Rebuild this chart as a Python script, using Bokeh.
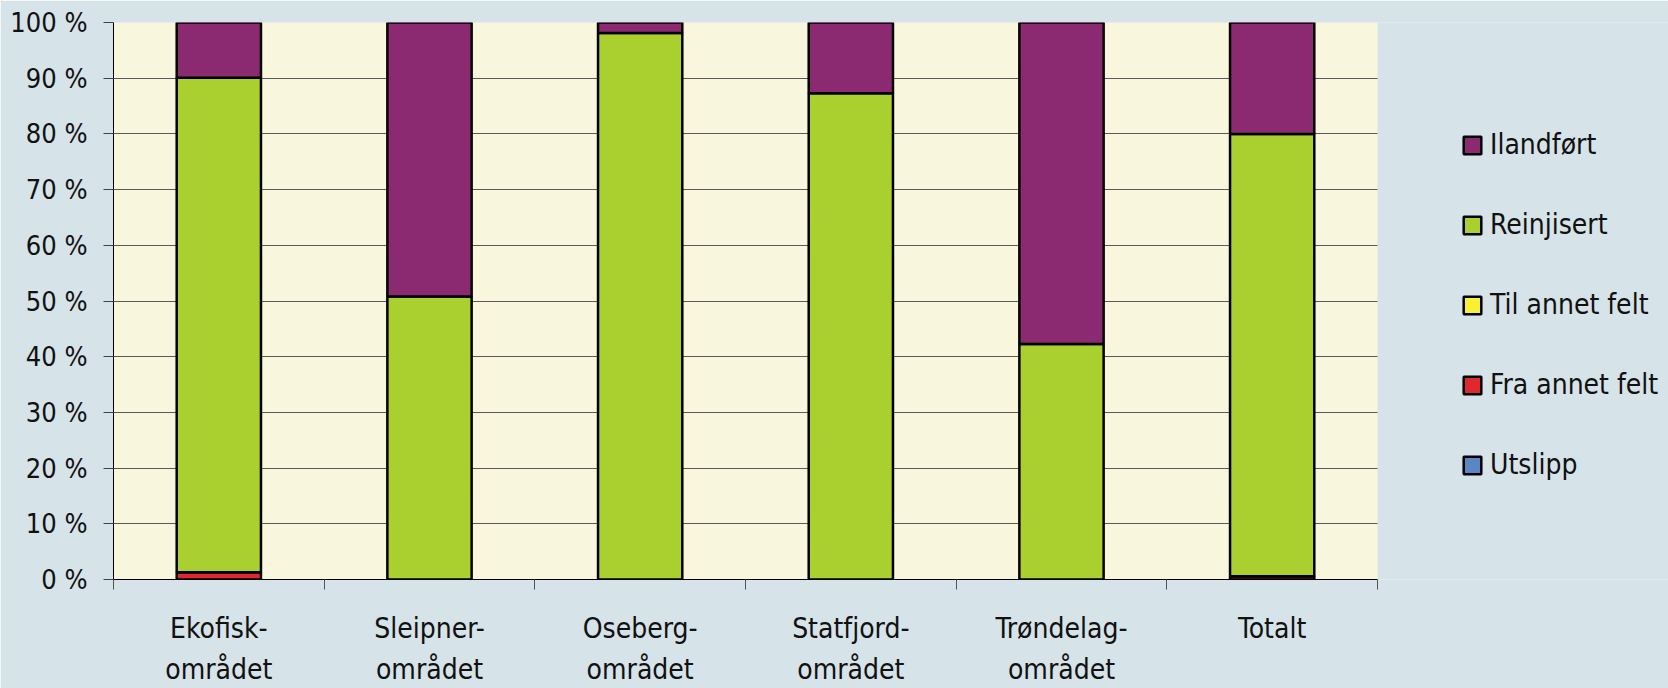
from bokeh.plotting import figure
from bokeh.models import (ColumnDataSource, FixedTicker, Legend, LegendItem,
                          PrintfTickFormatter, BoxAnnotation)
from bokeh.embed import file_html
from bokeh.resources import INLINE

categories = ["Ekofisk-\nområdet", "Sleipner-\nområdet", "Oseberg-\nområdet",
              "Statfjord-\nområdet", "Trøndelag-\nområdet", "Totalt"]
utslipp = [0.0, 0.0, 0.0, 0.0, 0.0, 0.0]
fra_annet_felt = [1.3, 0.0, 0.0, 0.0, 0.0, 0.6]
til_annet_felt = [0.0, 0.0, 0.0, 0.0, 0.0, 0.0]
reinjisert = [88.8, 50.8, 98.1, 87.3, 42.3, 79.4]
ilandfort = [9.9, 49.2, 1.9, 12.7, 57.7, 20.0]

series = ["Utslipp", "Fra annet felt", "Til annet felt", "Reinjisert", "Ilandført"]
colors = ["#5A86C6", "#E0282F", "#F7F033", "#AAD030", "#8B2A70"]
y_ticks = [0, 10, 20, 30, 40, 50, 60, 70, 80, 90, 100]

FONT = "DejaVu Sans Condensed"
BG = "#D6E3E8"
PLOT_BG = "#F8F7DE"

# layout (pixels)
W, H = 1668, 688
LEFT, TOP, BOTTOM = 113, 22, 109
PLOT_W = 1264                      # width of the cream plotting area
FRAME_W = W - LEFT                 # frame runs to the right edge, legend lives in it

n = len(categories)
x_end = n * FRAME_W / PLOT_W

xs = [i + 0.5 for i in range(n)]
source = ColumnDataSource(dict(x=xs, **{
    "Utslipp": utslipp, "Fra annet felt": fra_annet_felt,
    "Til annet felt": til_annet_felt, "Reinjisert": reinjisert, "Ilandført": ilandfort}))

p = figure(width=W, height=H, x_range=(0, x_end), y_range=(0, 100),
           output_backend="svg", toolbar_location=None,
           min_border_left=LEFT, min_border_right=0, min_border_top=TOP, min_border_bottom=BOTTOM)
p.background_fill_color = BG
p.border_fill_color = BG
p.outline_line_color = None

# cream plotting area over the category span
p.add_layout(BoxAnnotation(left=0, right=n, bottom=0, top=100, fill_color=PLOT_BG,
                           fill_alpha=1, line_color=None, level="image"))

renderers = p.vbar_stack(series, x="x", width=0.4, source=source, color=colors,
                         line_color="black", line_width=2.5)
for r, c in zip(renderers, colors):
    r.glyph.fill_color = c
    r.glyph.line_color = "black"

# x axis
p.xaxis.bounds = (0, n)
p.xaxis.ticker = FixedTicker(ticks=xs, minor_ticks=list(range(n + 1)))
p.xaxis.major_label_overrides = {x: c for x, c in zip(xs, categories)}
p.xaxis.major_tick_line_color = None
p.xaxis.major_tick_in = 0
p.xaxis.major_tick_out = 0
p.xaxis.minor_tick_in = 0
p.xaxis.minor_tick_out = 10
p.xaxis.minor_tick_line_color = "#555555"
p.xaxis.axis_line_color = "black"
p.xaxis.major_label_standoff = 22
p.xaxis.major_label_text_font = FONT
p.xaxis.major_label_text_font_size = "28px"
p.xaxis.major_label_text_line_height = 1.25
p.xaxis.major_label_text_color = "#111111"

# y axis
p.yaxis.ticker = FixedTicker(ticks=y_ticks)
p.yaxis.formatter = PrintfTickFormatter(format="%d %%")
p.yaxis.major_tick_in = 0
p.yaxis.major_tick_out = 10
p.yaxis.minor_tick_line_color = None
p.yaxis.major_tick_line_color = "#444444"
p.yaxis.axis_line_color = "black"
p.yaxis.major_label_standoff = 16
p.yaxis.major_label_text_font = FONT
p.yaxis.major_label_text_font_size = "27px"
p.yaxis.major_label_text_color = "#111111"

p.xgrid.grid_line_color = None
p.ygrid.ticker = FixedTicker(ticks=y_ticks)
p.ygrid.cross_bounds = (0, n)
p.ygrid.grid_line_color = "#5a5a5a"
p.ygrid.grid_line_width = 1

items = [LegendItem(label=s, renderers=[r]) for s, r in zip(series, renderers)][::-1]
legend = Legend(items=items, location=(1348, 98), orientation="vertical",
                glyph_width=22, glyph_height=22, label_standoff=7, spacing=47,
                padding=0, margin=0, border_line_color=None, background_fill_alpha=0,
                label_text_font=FONT, label_text_font_size="28px", label_text_color="#111111")
p.add_layout(legend, "center")

open("out.html", "w").write(file_html(p, INLINE))
